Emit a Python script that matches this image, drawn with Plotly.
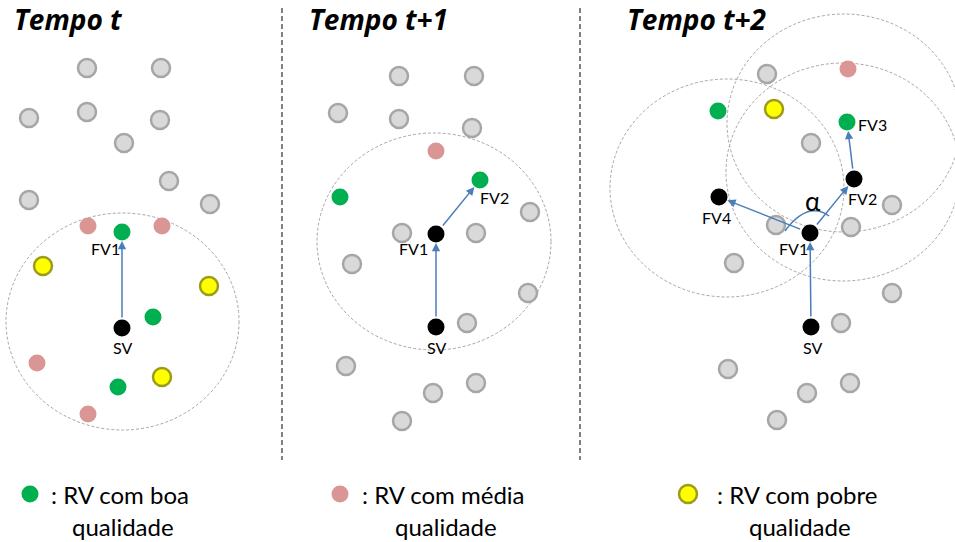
import plotly.graph_objects as go

# ---------------- data (pixel-space coordinates of the diagram) ----------------
titles = ["Tempo t", "Tempo t+1", "Tempo t+2"]
title_x = [12, 307, 625]

# Panel 1 (Tempo t)
p1_gray_x = [87, 161, 29, 87, 160, 124, 169, 29, 210]
p1_gray_y = [68, 68, 118, 112, 120, 143, 181, 200, 204]
p1_pink_x = [88, 162, 37, 88]
p1_pink_y = [226, 226, 363, 414]
p1_green_x = [122, 153, 118]
p1_green_y = [232, 317, 387]
p1_yellow_x = [43, 209, 162]
p1_yellow_y = [266, 286, 377]
p1_black_x = [122]
p1_black_y = [328]

# Panel 2 (Tempo t+1)
p2_gray_x = [399, 474, 338, 399, 472, 530, 402, 476, 352, 528, 467, 346, 476, 433, 402]
p2_gray_y = [76, 76, 113, 119, 128, 212, 233, 233, 264, 293, 323, 366, 383, 393, 421]
p2_pink_x = [436]
p2_pink_y = [151]
p2_green_x = [340, 480]
p2_green_y = [197, 180]
p2_black_x = [436, 436]
p2_black_y = [234, 327]

# Panel 3 (Tempo t+2)
p3_gray_x = [767, 811, 776, 851, 892, 734, 892, 841, 728, 807, 850, 777]
p3_gray_y = [74, 143, 225, 227, 205, 263, 293, 323, 369, 393, 383, 420]
p3_pink_x = [848]
p3_pink_y = [69]
p3_green_x = [718, 847]
p3_green_y = [111, 122]
p3_yellow_x = [774]
p3_yellow_y = [109]
p3_black_x = [719, 854, 810, 811]
p3_black_y = [197, 179, 233, 327]

# communication ranges: centre x, centre y, radius x, radius y
range_cx = [122.5, 434, 727, 844, 843]
range_cy = [321.5, 241.5, 188, 123, 172]
range_rx = [116.5, 117, 117, 117, 117]
range_ry = [108.5, 108.5, 109, 109, 109]

# arrows: from (x0,y0) to (x1,y1) node centres
arrow_x0 = [122, 436, 436, 811, 810, 854, 810]
arrow_y0 = [328, 327, 234, 327, 233, 179, 233]
arrow_x1 = [122, 436, 480, 810, 854, 847, 719]
arrow_y1 = [232, 234, 180, 233, 179, 122, 197]

# node labels
label_text = ["FV1", "SV", "FV1", "FV2", "SV", "FV1", "FV2", "FV3", "FV4", "SV"]
label_x = [105, 122, 413, 494, 436, 793, 862, 872, 716, 812]
label_y = [248, 347, 248, 197, 347, 248, 198, 124, 217, 347]

# legend
legend_text1 = [": RV com boa", ": RV com média", ": RV com pobre"]
legend_text2 = ["qualidade", "qualidade", "qualidade"]
legend_marker_x = [30, 340, 688]
legend_center_x = [120, 443, 797]

# ---------------- styles ----------------
FONT = "Lato, Carlito, 'Liberation Sans', sans-serif"
TITLE_FONT = "'Open Sans', Lato, sans-serif"
GRAY_FILL, GRAY_LINE = "#d9d9d9", "#a6a6a6"
PINK = "#d99694"
GREEN = "#00b050"
YELLOW, YELLOW_LINE = "#ffff00", "#9c9c1c"
BLUE = "#4a7ebb"

fig = go.Figure()

def dots(xs, ys, fill, line=None, lw=0, size=17):
    fig.add_trace(go.Scatter(
        x=xs, y=ys, mode="markers", hoverinfo="skip", showlegend=False,
        marker=dict(size=size, color=fill,
                    line=dict(color=line or fill, width=lw))))

for xs, ys in [(p1_gray_x, p1_gray_y), (p2_gray_x, p2_gray_y), (p3_gray_x, p3_gray_y)]:
    dots(xs, ys, GRAY_FILL, GRAY_LINE, 2.5, 18)
for xs, ys in [(p1_pink_x, p1_pink_y), (p2_pink_x, p2_pink_y), (p3_pink_x, p3_pink_y)]:
    dots(xs, ys, PINK)
for xs, ys in [(p1_green_x, p1_green_y), (p2_green_x, p2_green_y), (p3_green_x, p3_green_y)]:
    dots(xs, ys, GREEN)
for xs, ys in [(p1_yellow_x, p1_yellow_y), (p3_yellow_x, p3_yellow_y)]:
    dots(xs, ys, YELLOW, YELLOW_LINE, 2.5, 18)
for xs, ys in [(p1_black_x, p1_black_y), (p2_black_x, p2_black_y), (p3_black_x, p3_black_y)]:
    dots(xs, ys, "#000000", size=17)

# legend markers
dots(legend_marker_x[:1], [494], GREEN)
dots(legend_marker_x[1:2], [494], PINK)
dots(legend_marker_x[2:], [494], YELLOW, YELLOW_LINE, 2.5, 18)

shapes = []
for cx, cy, rx, ry in zip(range_cx, range_cy, range_rx, range_ry):
    shapes.append(dict(type="circle", xref="x", yref="y",
                       x0=cx - rx, x1=cx + rx, y0=cy - ry, y1=cy + ry,
                       line=dict(color="#a6a6a6", width=1, dash="3px,2px"), layer="below"))
for xv in [282, 580]:
    shapes.append(dict(type="line", xref="x", yref="y", x0=xv, x1=xv, y0=8, y1=460,
                       line=dict(color="#404040", width=1.3, dash="5px,3px")))
# angle alpha arc
shapes.append(dict(type="path", xref="x", yref="y",
                   path="M 785 231 Q 807.5 200.5 829 216",
                   line=dict(color=BLUE, width=1.5)))

annotations = []
R = 9
for x0, y0, x1, y1 in zip(arrow_x0, arrow_y0, arrow_x1, arrow_y1):
    dx, dy = x1 - x0, y1 - y0
    d = (dx * dx + dy * dy) ** 0.5
    ux, uy = dx / d, dy / d
    annotations.append(dict(x=x1 - ux * R, y=y1 - uy * R, ax=x0 + ux * R, ay=y0 + uy * R,
                            xref="x", yref="y", axref="x", ayref="y", text="",
                            showarrow=True, arrowhead=2, arrowsize=1.1, arrowwidth=1.5,
                            arrowcolor=BLUE, standoff=0, startstandoff=0))

for t, xv in zip(titles, title_x):
    annotations.append(dict(x=xv, y=19, xref="x", yref="y", text="<b><i>%s</i></b>" % t,
                            xanchor="left", yanchor="middle", showarrow=False,
                            font=dict(family=TITLE_FONT, size=28, color="#000000")))

for t, xv, yv in zip(label_text, label_x, label_y):
    annotations.append(dict(x=xv, y=yv, xref="x", yref="y", text=t, showarrow=False,
                            xanchor="center", yanchor="middle",
                            font=dict(family=FONT, size=16, color="#000000")))
annotations.append(dict(x=813, y=201, xref="x", yref="y", text="α", showarrow=False,
                        xanchor="center", yanchor="middle",
                        font=dict(family=FONT, size=26, color="#000000")))

for t1, t2, cx in zip(legend_text1, legend_text2, legend_center_x):
    annotations.append(dict(x=cx, y=494, xref="x", yref="y", text=t1, showarrow=False,
                            xanchor="center", yanchor="middle",
                            font=dict(family=FONT, size=24, color="#000000")))
    annotations.append(dict(x=cx + 3, y=526, xref="x", yref="y", text=t2, showarrow=False,
                            xanchor="center", yanchor="middle",
                            font=dict(family=FONT, size=24, color="#000000")))

fig.update_layout(
    width=955, height=542, margin=dict(l=0, r=0, t=0, b=0),
    paper_bgcolor="#ffffff", plot_bgcolor="#ffffff",
    xaxis=dict(range=[0, 955], visible=False, fixedrange=True),
    yaxis=dict(range=[542, 0], visible=False, fixedrange=True),
    shapes=shapes, annotations=annotations, showlegend=False,
)

fig.write_html("out.html", config={"displayModeBar": False},
               post_script="document.body.style.margin='0';document.body.style.overflow='hidden';")
